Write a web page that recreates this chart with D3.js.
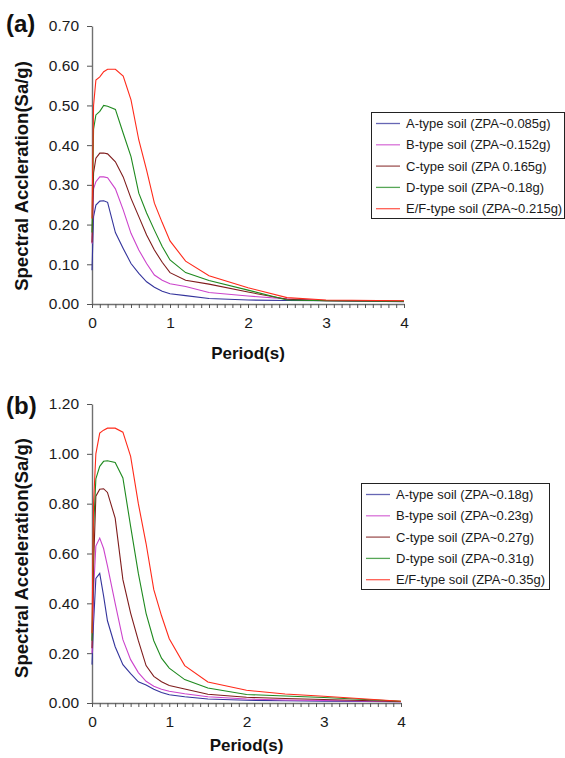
<!DOCTYPE html>
<html>
<head>
<meta charset="utf-8">
<script src="https://cdn.jsdelivr.net/npm/d3@7"></script>
<style>
  body { margin: 0; background: #fff; }
  svg { display: block; font-family: "Liberation Sans", Arial, sans-serif; }
</style>
</head>
<body>
<div id="chart"></div>
<script>
// periods (s) shared by all curves
const periods = [0, 0.02, 0.05, 0.1, 0.15, 0.2, 0.3, 0.4, 0.5, 0.6, 0.7, 0.8, 0.9, 1.0, 1.2, 1.5, 2.0, 2.5, 3.0, 4.0];

// panel (a)
const aSoilA  = [0.085, 0.22, 0.249, 0.259, 0.260, 0.256, 0.180, 0.140, 0.102, 0.077, 0.056, 0.042, 0.032, 0.026, 0.021, 0.014, 0.010, 0.009, 0.008, 0.006];
const aSoilB  = [0.152, 0.29, 0.308, 0.320, 0.320, 0.318, 0.290, 0.237, 0.178, 0.136, 0.102, 0.073, 0.060, 0.051, 0.044, 0.029, 0.020, 0.013, 0.009, 0.007];
const aSoilC  = [0.155, 0.33, 0.367, 0.380, 0.380, 0.378, 0.358, 0.320, 0.266, 0.220, 0.174, 0.136, 0.105, 0.079, 0.060, 0.050, 0.030, 0.012, 0.008, 0.007];
const aSoilD  = [0.180, 0.44, 0.476, 0.485, 0.500, 0.498, 0.490, 0.430, 0.371, 0.279, 0.229, 0.186, 0.145, 0.111, 0.079, 0.059, 0.035, 0.010, 0.008, 0.007];
const aSoilEF = [0.215, 0.50, 0.564, 0.572, 0.585, 0.591, 0.591, 0.574, 0.514, 0.413, 0.337, 0.254, 0.205, 0.159, 0.108, 0.071, 0.041, 0.016, 0.010, 0.008];
const aLabels = ["A-type soil (ZPA~0.085g)", "B-type soil (ZPA~0.152g)", "C-type soil (ZPA 0.165g)", "D-type soil (ZPA~0.18g)", "E/F-type soil (ZPA~0.215g)"];
const aTicks = [0, 0.1, 0.2, 0.3, 0.4, 0.5, 0.6, 0.7];

// panel (b)
const bSoilA  = [0.154, 0.32, 0.50, 0.520, 0.430, 0.330, 0.226, 0.154, 0.118, 0.085, 0.072, 0.055, 0.042, 0.033, 0.025, 0.016, 0.011, 0.009, 0.007, 0.005];
const bSoilB  = [0.200, 0.45, 0.63, 0.662, 0.620, 0.550, 0.400, 0.254, 0.174, 0.122, 0.087, 0.067, 0.055, 0.047, 0.037, 0.025, 0.016, 0.012, 0.010, 0.005];
const bSoilC  = [0.220, 0.55, 0.83, 0.858, 0.860, 0.845, 0.742, 0.495, 0.361, 0.250, 0.150, 0.107, 0.085, 0.070, 0.056, 0.035, 0.023, 0.018, 0.014, 0.006];
const bSoilD  = [0.250, 0.70, 0.90, 0.950, 0.970, 0.972, 0.965, 0.903, 0.709, 0.520, 0.360, 0.250, 0.180, 0.140, 0.094, 0.060, 0.034, 0.028, 0.022, 0.007];
const bSoilEF = [0.280, 0.80, 1.00, 1.083, 1.095, 1.103, 1.103, 1.087, 0.990, 0.800, 0.640, 0.455, 0.350, 0.258, 0.150, 0.084, 0.051, 0.036, 0.027, 0.007];
const bLabels = ["A-type soil (ZPA~0.18g)", "B-type soil (ZPA~0.23g)", "C-type soil (ZPA~0.27g)", "D-type soil (ZPA~0.31g)", "E/F-type soil (ZPA~0.35g)"];
const bTicks = [0, 0.2, 0.4, 0.6, 0.8, 1.0, 1.2];

const xTicks = d3.range(0, 41).map(i => i / 10);
const colors = ["#34349c", "#cc44cc", "#7f1c1c", "#1f8a1f", "#ff2a1a"];

const svg = d3.select("#chart")
  .append("svg")
  .attr("width", 565)
  .attr("height", 758);

function drawPanel(p) {
  const x = d3.scaleLinear().domain([0, 4]).range([p.left, p.right]);
  const y = d3.scaleLinear().domain([0, p.yMax]).range([p.bottom, p.top]);
  const g = svg.append("g");

  // y axis
  const yAxis = g.append("g")
    .attr("transform", `translate(${p.left},0)`)
    .call(d3.axisLeft(y).tickValues(p.yTicks).tickFormat(d3.format(".2f")).tickSize(5).tickPadding(8).tickSizeOuter(0));

  // x axis, minor ticks every 0.1
  const xAxis = g.append("g")
    .attr("transform", `translate(0,${p.bottom})`)
    .call(d3.axisBottom(x).tickValues(xTicks)
      .tickFormat(d => Math.abs(d - Math.round(d)) < 1e-6 ? d3.format("d")(d) : "")
      .tickSize(4).tickPadding(9).tickSizeOuter(0));

  [yAxis, xAxis].forEach(a => {
    a.select(".domain").attr("stroke", "#707070").attr("stroke-width", 1.4);
    a.selectAll(".tick line").attr("stroke", "#555");
    a.selectAll(".tick text").attr("fill", "#1a1a1a").style("font-size", "15.5px");
  });

  // curves
  const line = d3.line()
    .x((d, i) => x(periods[i]))
    .y(d => y(d));

  g.selectAll("path.curve")
    .data(p.series)
    .enter()
    .append("path")
    .attr("class", "curve")
    .attr("d", d => line(d))
    .attr("fill", "none")
    .attr("stroke", (d, i) => colors[i])
    .attr("stroke-width", 1.1);

  // titles
  g.append("text")
    .attr("x", 6)
    .attr("y", p.tagY)
    .attr("font-weight", "bold")
    .attr("font-size", "24px")
    .attr("fill", "#111")
    .text(p.tag);

  g.append("text")
    .attr("transform", `translate(28,${p.yTitleMid}) rotate(-90)`)
    .attr("text-anchor", "middle")
    .attr("font-weight", "bold")
    .attr("font-size", "18.5px")
    .attr("fill", "#111")
    .text(p.yTitle);

  g.append("text")
    .attr("x", (p.left + p.right) / 2)
    .attr("y", p.xTitleY)
    .attr("text-anchor", "middle")
    .attr("font-weight", "bold")
    .attr("font-size", "17px")
    .attr("fill", "#111")
    .text("Period(s)");

  // legend
  const lg = g.append("g").attr("transform", `translate(${p.legX},${p.legY})`);
  lg.append("rect")
    .attr("x", 0.5)
    .attr("y", 0.5)
    .attr("width", p.legW)
    .attr("height", 106)
    .attr("fill", "#fff")
    .attr("stroke", "#222")
    .attr("stroke-width", 1);

  const item = lg.selectAll("g.item")
    .data(p.labels)
    .enter()
    .append("g")
    .attr("class", "item")
    .attr("transform", (d, i) => `translate(0,${11.5 + i * 21.3})`);

  item.append("line")
    .attr("x1", 5)
    .attr("x2", 29)
    .attr("stroke", (d, i) => colors[i])
    .attr("stroke-width", 1.3)
    .attr("opacity", 0.75);

  item.append("text")
    .attr("x", 35)
    .attr("dy", "0.35em")
    .attr("font-size", "13px")
    .attr("fill", "#1a1a1a")
    .text(d => d);
}

drawPanel({
  left: 92, right: 404, top: 26, bottom: 304, yMax: 0.7, yTicks: aTicks,
  series: [aSoilA, aSoilB, aSoilC, aSoilD, aSoilEF], labels: aLabels,
  tag: "(a)", tagY: 32, yTitle: "Spectral Accleration(Sa/g)", yTitleMid: 176,
  xTitleY: 359, legX: 371, legY: 112, legW: 193
});

drawPanel({
  left: 92, right: 401, top: 404, bottom: 703, yMax: 1.2, yTicks: bTicks,
  series: [bSoilA, bSoilB, bSoilC, bSoilD, bSoilEF], labels: bLabels,
  tag: "(b)", tagY: 414, yTitle: "Spectral Acceleration(Sa/g)", yTitleMid: 558,
  xTitleY: 751, legX: 361, legY: 483, legW: 188
});
</script>
</body>
</html>
